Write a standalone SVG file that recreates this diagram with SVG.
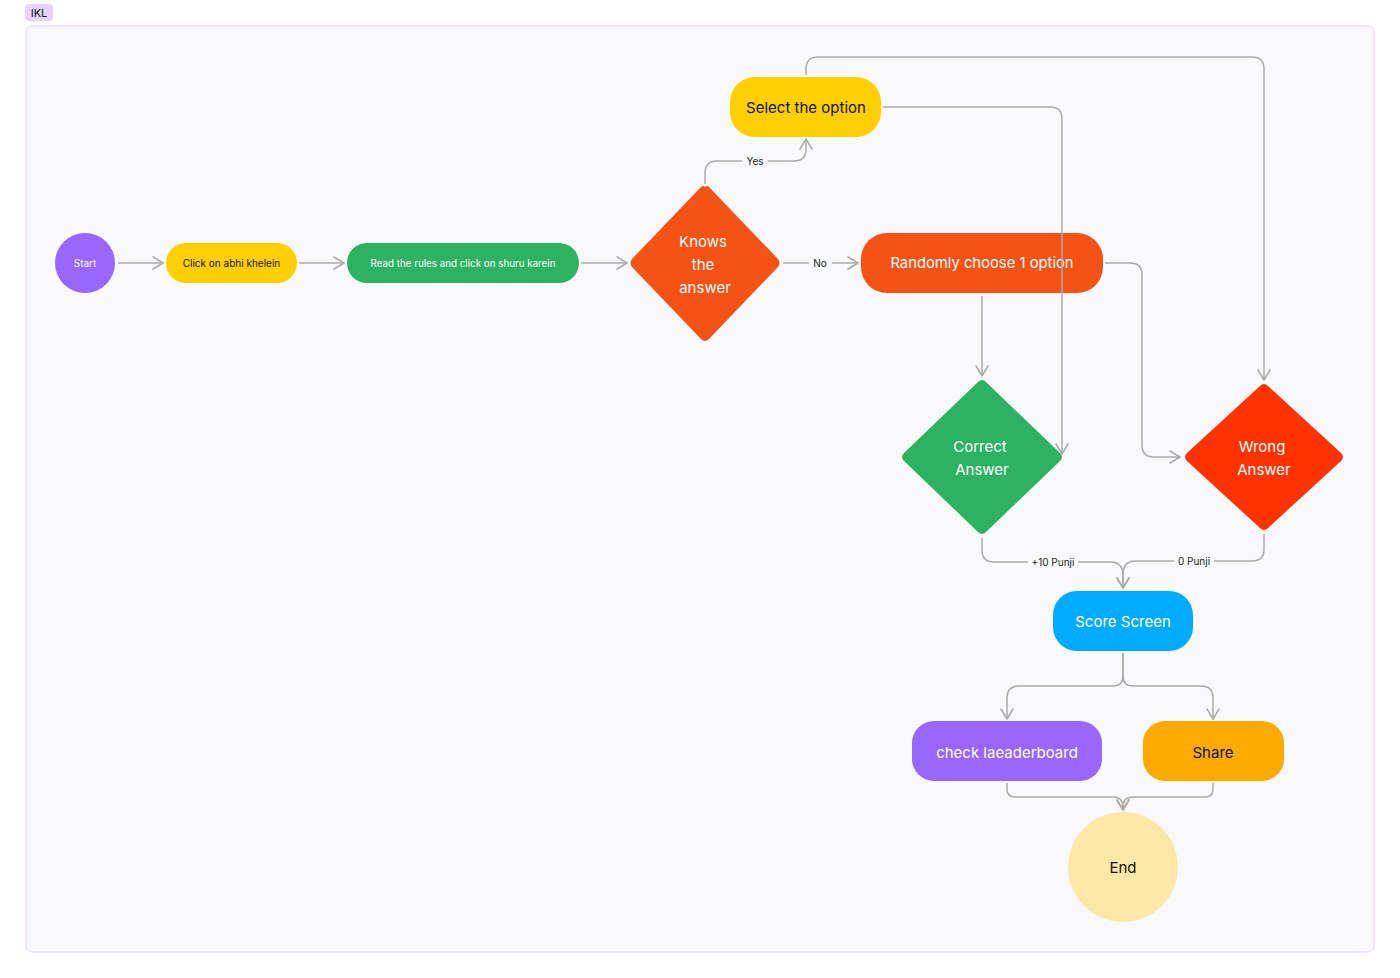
<svg xmlns="http://www.w3.org/2000/svg" width="1400" height="978" viewBox="0 0 1400 978">
<defs>
<marker id="arr" viewBox="0 0 12 14" refX="11" refY="7" markerWidth="12" markerHeight="14" markerUnits="userSpaceOnUse" orient="auto">
<path d="M1,1 L11,7 L1,13" fill="none" stroke="#aaaaaa" stroke-width="1.5" stroke-linecap="round" stroke-linejoin="round"/>
</marker>
<style>
.t{font-family:Inter,"Noto Sans","Liberation Sans",sans-serif;text-anchor:middle;dominant-baseline:central}
.w{fill:#ffffff}
.k{fill:#111111}
.c{fill:none;stroke:#aaaaaa;stroke-width:1.5;stroke-linejoin:round}
.lb{font-family:Inter,"Noto Sans","Liberation Sans",sans-serif;font-size:10px;fill:#222;text-anchor:middle;dominant-baseline:central}
.lbg{fill:#f9f9fc}
</style>
</defs>
<rect width="1400" height="978" fill="#ffffff"/>
<g id="frame">
<rect x="26" y="26" width="1348" height="926" rx="6" fill="#f9f9fc" stroke="#e8d4f6" stroke-width="1"/>
<rect x="25" y="4" width="28" height="17" rx="4" fill="#e6d3fb"/>
<text class="t k" x="39" y="13" font-size="11">IKL</text>
</g>
<g id="nodes-shapes">
<g id="start"><circle cx="85" cy="263" r="30" fill="#9966ff"/><text class="t w" x="85" y="263" font-size="10">Start</text></g>
<g id="click"><rect x="166" y="243" width="131" height="40" rx="20" fill="#ffcf00"/><text class="t k" x="231.5" y="263" font-size="10">Click on abhi khelein</text></g>
<g id="read"><rect x="347" y="243" width="232" height="40" rx="20" fill="#2db262"/><text class="t w" x="463" y="263" font-size="9.8">Read the rules and click on shuru karein</text></g>
<g id="knows"><path d="M705,187 Q707,185 709,187 L778,259 Q781,263 778,267 L709,339 Q705,343 701,339 L632,267 Q629,263 632,259 L701,187 Q703,185 705,187 Z" fill="#f55216"/>
<text class="t w" x="703" y="241" font-size="15">Knows</text><text class="t w" x="703" y="264" font-size="15">the</text><text class="t w" x="705" y="287" font-size="15">answer</text></g>
<g id="select"><rect x="730" y="77" width="151" height="60" rx="25" fill="#ffcf00"/><text class="t k" x="806" y="107" font-size="15">Select the option</text></g>
<g id="random"><rect x="861" y="233" width="242" height="60" rx="26" fill="#f55216"/><text class="t w" x="982" y="263" font-size="14.8">Randomly choose 1 option</text></g>
<g id="correct"><path d="M978,382 Q982,378 986,382 L1060,453 Q1064,457 1060,461 L986,532 Q982,536 978,532 L904,461 Q900,457 904,453 Z" fill="#2db262"/>
<text class="t w" x="980" y="446" font-size="15">Correct</text><text class="t w" x="982" y="469" font-size="15">Answer</text></g>
<g id="wrong"><path d="M1260,386 Q1264,382 1268,386 L1341,453 Q1345,457 1341,461 L1268,528 Q1264,532 1260,528 L1187,461 Q1183,457 1187,453 Z" fill="#ff3300"/>
<text class="t w" x="1262" y="446" font-size="15">Wrong</text><text class="t w" x="1264" y="469" font-size="15">Answer</text></g>
<g id="score"><rect x="1053" y="591" width="140" height="60" rx="24" fill="#00aaff"/><text class="t w" x="1123" y="621" font-size="15">Score Screen</text></g>
<g id="leader"><rect x="912" y="721" width="190" height="60" rx="22" fill="#9966ff"/><text class="t w" x="1007" y="752" font-size="15">check laeaderboard</text></g>
<g id="share"><rect x="1143" y="721" width="141" height="60" rx="22" fill="#ffaa00"/><text class="t k" x="1213" y="752" font-size="15">Share</text></g>
<g id="end"><circle cx="1123" cy="867" r="55" fill="#fee8a8"/><text class="t k" x="1123" y="867" font-size="15">End</text></g>
</g>
<g id="connectors">
<path class="c" d="M118,263 H163" marker-end="url(#arr)"/>
<path class="c" d="M299,263 H344" marker-end="url(#arr)"/>
<path class="c" d="M581,263 H627" marker-end="url(#arr)"/>
<path class="c" d="M705,184 V173 Q705,161 717,161 H794 Q806,161 806,149 V139" marker-end="url(#arr)"/>
<rect class="lbg" x="742" y="154" width="26" height="14"/>
<text class="lb" x="755" y="161">Yes</text>
<path class="c" d="M783,263 H858" marker-end="url(#arr)"/>
<rect class="lbg" x="809" y="256" width="23" height="14"/>
<text class="lb" x="820" y="263">No</text>
<path class="c" d="M806,75 V69 Q806,57 818,57 H1252 Q1264,57 1264,69 V380" marker-end="url(#arr)"/>
<path class="c" d="M883,107 H1050 Q1062,107 1062,119 V454" marker-end="url(#arr)"/>
<path class="c" d="M982,296 V376" marker-end="url(#arr)"/>
<path class="c" d="M1105,263 H1130 Q1142,263 1142,275 V445 Q1142,457 1154,457 H1180" marker-end="url(#arr)"/>
<path class="c" d="M982,538 V550 Q982,562 994,562 H1110 Q1123,562 1123,575 V588" marker-end="url(#arr)"/>
<rect class="lbg" x="1028" y="555" width="50" height="14"/>
<text class="lb" x="1053" y="562">+10 Punji</text>
<path class="c" d="M1264,534 V549 Q1264,561 1252,561 H1136 Q1123,561 1123,574 V588" marker-end="url(#arr)"/>
<rect class="lbg" x="1174" y="554" width="40" height="14"/>
<text class="lb" x="1194" y="561">0 Punji</text>
<path class="c" d="M1123,653 V676 Q1123,686 1113,686 H1019 Q1007,686 1007,698 V719" marker-end="url(#arr)"/>
<path class="c" d="M1123,653 V676 Q1123,686 1133,686 H1201 Q1213,686 1213,698 V719" marker-end="url(#arr)"/>
<path class="c" d="M1007,783 V789 Q1007,797 1015,797 H1113 Q1123,797 1123,807 V810" marker-end="url(#arr)"/>
<path class="c" d="M1213,783 V789 Q1213,797 1205,797 H1133 Q1123,797 1123,807 V810" marker-end="url(#arr)"/>
</g>
</svg>
